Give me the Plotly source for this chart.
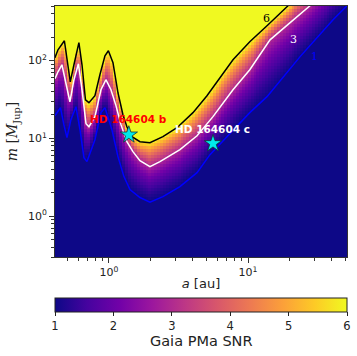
import numpy as np
import plotly.graph_objects as go

# SNR = 6 contour (a [au], m [M_Jup])
a_snr6 = [0.409, 0.430, 0.478, 0.499, 0.527, 0.560, 0.608, 0.640, 0.678, 0.718, 0.793, 0.861,
          0.936, 0.991, 1.069, 1.161, 1.261, 1.346, 1.463, 1.671, 1.972, 2.444, 3.085, 4.02,
          5.07, 7.80, 10.3, 13.7, 19.4, 55.0]
m_snr6 = [108, 137, 179, 102, 53, 88, 169, 88, 31.3, 28.7, 35.3, 65.6,
          115, 133, 93.5, 38.5, 20.1, 14.1, 10.5, 9.07, 8.81, 10.5, 13.7, 21.4,
          35.3, 102, 174, 279, 503, 3500]
# SNR = 3 contour
a_snr3 = [0.409, 0.430, 0.459, 0.491, 0.524, 0.560, 0.603, 0.640, 0.684, 0.718, 0.793, 0.876,
          0.951, 1.034, 1.123, 1.220, 1.346, 1.488, 1.671, 1.972, 2.327, 3.24, 4.30, 5.60,
          7.80, 10.3, 14.4, 20.0, 27.9, 55.0]
m_snr3 = [58.2, 71.6, 88, 48.7, 29.5, 56.6, 90.7, 42.1, 15.4, 14.1, 19.0, 42.1,
          56.6, 42.1, 26.3, 15.0, 9.07, 6.76, 5.18, 4.34, 5.03, 7.17, 10.8, 19.0,
          42.1, 76.0, 184, 304, 503, 1750]
# SNR = 1 contour
a_snr1 = [0.409, 0.448, 0.474, 0.499, 0.533, 0.579, 0.619, 0.661, 0.695, 0.793, 0.876, 0.936,
          1.051, 1.161, 1.282, 1.416, 1.671, 1.972, 2.444, 3.24, 4.30, 5.33, 7.06, 10.3,
          13.7, 23.7, 40.9, 51.5]
m_snr1 = [19.5, 24.8, 15.0, 10.2, 17.4, 25.5, 12.9, 5.66, 5.03, 9.62, 21.4, 24.8,
          12.9, 5.83, 3.23, 2.20, 1.74, 1.52, 1.79, 2.40, 3.63, 6.18, 10.5, 21.4,
          34.3, 112, 333, 503]

# companions
planet_names = ["HD 164604 b", "HD 164604 c"]
planet_a = [1.39, 5.6]
planet_m = [11.1, 8.6]
label_colors = ["red", "white"]

contour_levels = [6, 3, 1]
cbar_ticks = [1, 2, 3, 4, 5, 6]

# ---- build SNR map from the contour tracks ----
xlog0, xlog1 = -0.388, 1.712
ylog0, ylog1 = np.log10(0.3), np.log10(500)
nx, ny = 100, 84
xe = np.logspace(xlog0, xlog1, nx + 1)
ye = np.logspace(ylog0, ylog1, ny + 1)
lxc = 0.5 * (np.log10(xe[:-1]) + np.log10(xe[1:]))
lyc = 0.5 * (np.log10(ye[:-1]) + np.log10(ye[1:]))
L1 = np.interp(lxc, np.log10(a_snr1), np.log10(m_snr1))
L3 = np.interp(lxc, np.log10(a_snr3), np.log10(m_snr3))
L6 = np.interp(lxc, np.log10(a_snr6), np.log10(m_snr6))
LY = lyc[:, None]
lo = (LY - L1[None, :]) / (L3 - L1)[None, :] * np.log10(3)
hi = np.log10(3) + (LY - L3[None, :]) / (L6 - L3)[None, :] * (np.log10(6) - np.log10(3))
z = 10 ** np.where(LY <= L3[None, :], lo, hi)

fig = go.Figure()
fig.add_trace(go.Heatmap(
    x=xe, y=ye, z=z, zmin=1, zmax=6, colorscale="Plasma", zsmooth=False, hoverinfo="skip",
    colorbar=dict(orientation="h", x=0.5, xanchor="center", y=-0.163, yanchor="top",
                  len=1, lenmode="fraction", thickness=14, xpad=0, ypad=0,
                  outlinewidth=1, outlinecolor="#222",
                  tickmode="array", tickvals=cbar_ticks, ticktext=[str(t) for t in cbar_ticks],
                  ticks="outside", ticklen=4, tickcolor="#222",
                  tickfont=dict(size=11.5, color="#222")),
))
for aa, mm, col in [(a_snr6, m_snr6, "black"), (a_snr3, m_snr3, "white"), (a_snr1, m_snr1, "blue")]:
    fig.add_trace(go.Scatter(x=aa, y=mm, mode="lines", line=dict(color=col, width=1.5),
                             showlegend=False, hoverinfo="skip"))
fig.add_trace(go.Scatter(x=planet_a, y=planet_m, mode="markers",
                         marker=dict(symbol="star", size=13, color="#00eaea",
                                     line=dict(color="#113333", width=0.8)),
                         showlegend=False))

annotations = []
label_offsets = [1.26, 1.21]
for name, a, m, c, f in zip(planet_names, planet_a, planet_m, label_colors, label_offsets):
    annotations.append(dict(x=np.log10(a), y=np.log10(m * f), xref="x", yref="y",
                            text="<b>%s</b>" % name, showarrow=False, yanchor="bottom",
                            font=dict(size=10.5, color=c, family="DejaVu Sans")))
lab_pos = [(13.5, 343, "black"), (21.1, 184, "white"), (29.9, 111, "blue")]
for lev, (la, lm, c) in zip(contour_levels, lab_pos):
    annotations.append(dict(x=np.log10(la), y=np.log10(lm), xref="x", yref="y", text=str(lev),
                            showarrow=False, font=dict(size=11, color=c, family="DejaVu Serif")))
annotations.append(dict(x=0.5, y=-0.333, xref="paper", yref="paper", text="Gaia PMa SNR",
                        showarrow=False, yanchor="middle",
                        font=dict(size=14.5, color="#222", family="DejaVu Sans")))

xminor = [0.5, 0.6, 0.7, 0.8, 0.9, 2, 3, 4, 5, 6, 7, 8, 9, 20, 30, 40, 50]
yminor = [0.3, 0.4, 0.5, 0.6, 0.7, 0.8, 0.9, 2, 3, 4, 5, 6, 7, 8, 9,
          20, 30, 40, 50, 60, 70, 80, 90, 200, 300, 400, 500]

axis_common = dict(type="log", showgrid=False, zeroline=False, showline=True, mirror=True,
                   automargin=False,
                   linecolor="#333", linewidth=1, ticks="outside", ticklen=5, tickcolor="#333",
                   tickfont=dict(size=11, color="#222"),
                   minor=dict(ticks="outside", ticklen=3, tickcolor="#333", showgrid=False))
fig.update_xaxes(**axis_common, range=[xlog0, xlog1], tickmode="array", tickvals=[1, 10],
                 ticktext=["10<sup>0</sup>", "10<sup>1</sup>"],
                 title=dict(text="<i>a</i> [au]", font=dict(size=13, color="#222"), standoff=0))
fig.update_xaxes(minor_tickvals=xminor)
fig.update_yaxes(**axis_common, range=[ylog0, ylog1], tickmode="array", tickvals=[1, 10, 100],
                 ticktext=["10<sup>0</sup>", "10<sup>1</sup>", "10<sup>2</sup>"],
                 title=dict(text="<i>m</i> [<i>M</i><sub>Jup</sub>]", font=dict(size=14, color="#222",
                            family="DejaVu Serif"), standoff=6))
fig.update_yaxes(minor_tickvals=yminor)
fig.update_layout(width=357, height=356,
                  margin=dict(l=55, r=10, t=6, b=99, autoexpand=False),
                  paper_bgcolor="white", plot_bgcolor="#0d0887",
                  font=dict(family="DejaVu Sans"), annotations=annotations, showlegend=False)
fig.write_html("out.html", config={"displayModeBar": False},
               post_script="document.body.style.margin='0';document.body.style.overflow='hidden';")
